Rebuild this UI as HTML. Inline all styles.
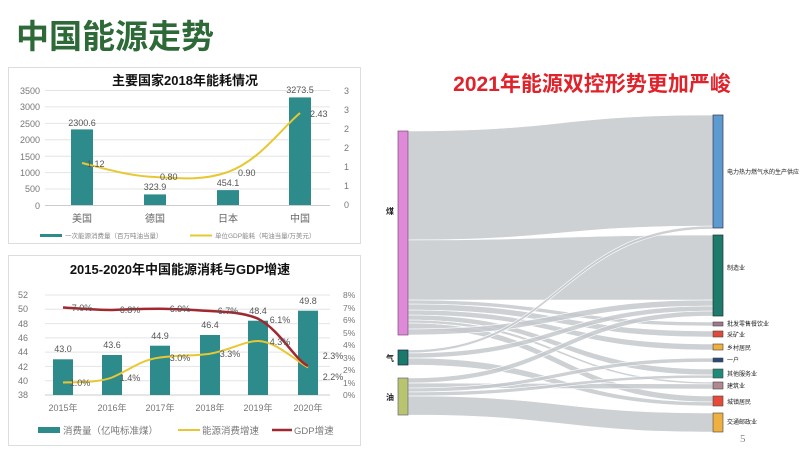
<!DOCTYPE html>
<html><head><meta charset="utf-8"><style>
html,body{margin:0;padding:0;background:#fff;}
body{width:800px;height:450px;overflow:hidden;position:relative;font-family:"Liberation Sans","Noto Sans CJK SC",sans-serif;}
</style></head><body>
<svg width="800" height="450" viewBox="0 0 800 450" xmlns="http://www.w3.org/2000/svg" style="position:absolute;left:0;top:0;font-family:'Liberation Sans','Noto Sans CJK SC',sans-serif">
<text x="16" y="48" font-size="33" font-weight="bold" fill="#2d6a38">中国能源走势</text>

<!-- Chart 1 -->
<rect x="8.5" y="67.5" width="352" height="176" fill="#fff" stroke="#ddd"/>
<text x="185" y="85" font-size="13" font-weight="bold" text-anchor="middle" fill="#111">主要国家2018年能耗情况</text>
<g stroke="#e4e4e4" stroke-width="1">
<line x1="45" x2="330" y1="90.5" y2="90.5"/><line x1="45" x2="330" y1="106.9" y2="106.9"/><line x1="45" x2="330" y1="123.4" y2="123.4"/><line x1="45" x2="330" y1="139.8" y2="139.8"/><line x1="45" x2="330" y1="156.2" y2="156.2"/><line x1="45" x2="330" y1="172.6" y2="172.6"/><line x1="45" x2="330" y1="189" y2="189"/></g>
<line x1="45" x2="330" y1="205.5" y2="205.5" stroke="#ccc"/>
<g font-size="9" fill="#777" text-anchor="end">
<text x="40" y="94">3500</text><text x="40" y="110">3000</text><text x="40" y="127">2500</text><text x="40" y="143">2000</text><text x="40" y="160">1500</text><text x="40" y="176">1000</text><text x="40" y="192">500</text><text x="40" y="209">0</text></g>
<g font-size="9" fill="#777">
<text x="344" y="94">3</text><text x="344" y="113">3</text><text x="344" y="132">2</text><text x="344" y="151">2</text><text x="344" y="170">1</text><text x="344" y="189">1</text><text x="344" y="208">0</text></g>
<g fill="#2e8b8b">
<rect x="71" y="129.4" width="22" height="75.6"/><rect x="144" y="194.4" width="22" height="10.6"/><rect x="217" y="190.1" width="22" height="14.9"/><rect x="289" y="97.4" width="22" height="107.6"/></g>
<path d="M82 163 C110 170,130 176,155 177 C185 179,205 180,228 172 C260 160,280 130,300 113" fill="none" stroke="#e8c832" stroke-width="2"/>
<g font-size="9" fill="#555">
<text x="82" y="126" text-anchor="middle">2300.6</text><text x="155" y="190" text-anchor="middle">323.9</text><text x="228" y="186" text-anchor="middle">454.1</text><text x="300" y="93" text-anchor="middle">3273.5</text>
<text x="87" y="167">1.12</text><text x="160" y="180">0.80</text><text x="238" y="176">0.90</text><text x="310" y="117">2.43</text></g>
<g font-size="10" fill="#666" text-anchor="middle">
<text x="82" y="222">美国</text><text x="155" y="222">德国</text><text x="228" y="222">日本</text><text x="300" y="222">中国</text></g>
<rect x="40" y="234" width="22" height="3" fill="#2e8b8b"/>
<text x="65" y="238" font-size="6.5" fill="#888">一次能源消费量（百万吨油当量）</text>
<line x1="190" x2="212" y1="235.5" y2="235.5" stroke="#e8c832" stroke-width="2"/>
<text x="215" y="238" font-size="6.5" fill="#888">单位GDP能耗（吨油当量/万美元）</text>

<!-- Chart 2 -->
<rect x="8.5" y="255.5" width="352" height="190" fill="#fff" stroke="#ddd"/>
<text x="180" y="274" font-size="13" font-weight="bold" text-anchor="middle" fill="#111">2015-2020年中国能源消耗与GDP增速</text>
<g stroke="#e4e4e4"><line x1="45" x2="330" y1="295" y2="295"/><line x1="45" x2="330" y1="309.3" y2="309.3"/><line x1="45" x2="330" y1="323.6" y2="323.6"/><line x1="45" x2="330" y1="337.9" y2="337.9"/><line x1="45" x2="330" y1="352.1" y2="352.1"/><line x1="45" x2="330" y1="366.4" y2="366.4"/><line x1="45" x2="330" y1="380.7" y2="380.7"/></g>
<line x1="45" x2="330" y1="395" y2="395" stroke="#ccc"/>
<g font-size="9" fill="#777" text-anchor="end">
<text x="28" y="298">52</text><text x="28" y="312">50</text><text x="28" y="327">48</text><text x="28" y="341">46</text><text x="28" y="355">44</text><text x="28" y="370">42</text><text x="28" y="384">40</text><text x="28" y="398">38</text></g>
<g font-size="8.5" fill="#777">
<text x="343" y="298">8%</text><text x="343" y="311">7%</text><text x="343" y="323">6%</text><text x="343" y="336">5%</text><text x="343" y="348">4%</text><text x="343" y="361">3%</text><text x="343" y="373">2%</text><text x="343" y="386">1%</text><text x="343" y="398">0%</text></g>
<g fill="#2e8b8b">
<rect x="53" y="359.3" width="20" height="35.7"/><rect x="102" y="355" width="20" height="40"/><rect x="150" y="345.7" width="20" height="49.3"/><rect x="200" y="335" width="20" height="60"/><rect x="248" y="320.7" width="20" height="74.3"/><rect x="298" y="310.7" width="20" height="84.3"/></g>
<path d="M63 382.5 C85 382,100 382,112 377.5 C130 370,140 360,160 357.5 C180 355,195 356,210 353.7 C230 350,245 341,258 341 C275 341,295 360,308 367.5" fill="none" stroke="#e8c832" stroke-width="2"/>
<path d="M63 307.5 C85 309,95 310,112 310 C135 309,145 308.7,160 308.7 C180 309,195 310,210 311 C230 312,245 313,258 318.7 C280 330,295 360,308 366" fill="none" stroke="#a02830" stroke-width="2.5"/>
<g font-size="9" fill="#555" text-anchor="middle">
<text x="63" y="352">43.0</text><text x="112" y="348">43.6</text><text x="160" y="339">44.9</text><text x="210" y="328">46.4</text><text x="258" y="314">48.4</text><text x="308" y="304">49.8</text>
<text x="82" y="311">7.0%</text><text x="130" y="313">6.8%</text><text x="180" y="312">6.9%</text><text x="228" y="314">6.7%</text><text x="280" y="323">6.1%</text>
<text x="80" y="386">1.0%</text><text x="130" y="381">1.4%</text><text x="180" y="361">3.0%</text><text x="230" y="357">3.3%</text><text x="280" y="345">4.3%</text>
<text x="333" y="359">2.3%</text><text x="333" y="380">2.2%</text></g>
<g font-size="9" fill="#777" text-anchor="middle">
<text x="63" y="411">2015年</text><text x="112" y="411">2016年</text><text x="160" y="411">2017年</text><text x="210" y="411">2018年</text><text x="258" y="411">2019年</text><text x="308" y="411">2020年</text></g>
<rect x="38" y="427" width="22" height="6" fill="#2e8b8b"/>
<text x="63" y="434" font-size="9.5" fill="#777">消费量（亿吨标准煤）</text>
<line x1="178" x2="200" y1="430" y2="430" stroke="#e8c832" stroke-width="2"/>
<text x="202" y="434" font-size="9.5" fill="#777">能源消费增速</text>
<line x1="272" x2="292" y1="430" y2="430" stroke="#a02830" stroke-width="2.5"/>
<text x="294" y="434" font-size="9.5" fill="#777">GDP增速</text>

<!-- Sankey -->
<text x="592" y="91" font-size="21" font-weight="bold" fill="#e0222a" text-anchor="middle">2021年能源双控形势更加严峻</text>
<g fill="#c4c9cc" fill-opacity="0.85" stroke="#fff" stroke-width="0.6">
<path d="M408 131 C560 131 560 115 713 115 L713 226 C560 226 560 240 408 240 Z"/>
<path d="M408 240 C560 240 560 235 713 235 L713 300 C560 300 560 300 408 300 Z"/>
<path d="M408 300 C560 300 560 322 713 322 L713 326 C560 326 560 304 408 304 Z"/>
<path d="M408 304 C560 304 560 331 713 331 L713 337 C560 337 560 310 408 310 Z"/>
<path d="M408 310 C560 310 560 344 713 344 L713 350 C560 350 560 315 408 315 Z"/>
<path d="M408 315 C560 315 560 369 713 369 L713 375 C560 375 560 320 408 320 Z"/>
<path d="M408 320 C560 320 560 382 713 382 L713 384 C560 384 560 323 408 323 Z"/>
<path d="M408 323 C560 323 560 396 713 396 L713 402 C560 402 560 329 408 329 Z"/>
<path d="M408 329 C560 329 560 300 713 300 L713 306 C560 306 560 335 408 335 Z"/>
<path d="M408 350 C560 350 560 226 713 226 L713 229 C560 229 560 353 408 353 Z"/>
<path d="M408 353 C560 353 560 306 713 306 L713 311 C560 311 560 358 408 358 Z"/>
<path d="M408 358 C560 358 560 402 713 402 L713 406 C560 406 560 365 408 365 Z"/>
<path d="M408 378 C560 378 560 311 713 311 L713 316 C560 316 560 383 408 383 Z"/>
<path d="M408 383 C560 383 560 384 713 384 L713 389 C560 389 560 388 408 388 Z"/>
<path d="M408 388 C560 388 560 358 713 358 L713 362 C560 362 560 392 408 392 Z"/>
<path d="M408 392 C560 392 560 375 713 375 L713 378 C560 378 560 396 408 396 Z"/>
<path d="M408 396 C560 396 560 413 713 413 L713 432 C560 432 560 415 408 415 Z"/>
</g>
<rect x="398" y="131" width="10" height="204" fill="#de8ad8" stroke="#7a4a7a" stroke-width="0.7"/>
<rect x="398" y="350" width="10" height="15" fill="#1a7a6a" stroke="#224" stroke-width="0.7"/>
<rect x="398" y="378" width="10" height="37" fill="#b9c46e" stroke="#667" stroke-width="0.7"/>
<g font-size="8" font-weight="bold" fill="#222"><text x="386" y="214">煤</text><text x="386" y="361">气</text><text x="386" y="400">油</text></g>
<rect x="713" y="115" width="10" height="113" fill="#5b9bd0" stroke="#335" stroke-width="0.7"/>
<rect x="713" y="235" width="10" height="81" fill="#1e7a6a" stroke="#233" stroke-width="0.7"/>
<rect x="713" y="322" width="10" height="4" fill="#a07890" stroke="#444" stroke-width="0.6"/>
<rect x="713" y="331" width="10" height="6" fill="#e04a3a" stroke="#444" stroke-width="0.6"/>
<rect x="713" y="344" width="10" height="6" fill="#f0b040" stroke="#444" stroke-width="0.6"/>
<rect x="713" y="358" width="10" height="4" fill="#2a4a7a" stroke="#444" stroke-width="0.6"/>
<rect x="713" y="369" width="10" height="9" fill="#1e8a7a" stroke="#444" stroke-width="0.6"/>
<rect x="713" y="382" width="10" height="7" fill="#b08890" stroke="#444" stroke-width="0.6"/>
<rect x="713" y="396" width="10" height="10" fill="#e84a3a" stroke="#444" stroke-width="0.6"/>
<rect x="713" y="413" width="10" height="19" fill="#f0b040" stroke="#444" stroke-width="0.6"/>
<g font-size="6" fill="#222">
<text x="727" y="174">电力热力燃气水的生产供应</text><text x="727" y="270">制造业</text>
<text x="727" y="326">批发零售餐饮业</text><text x="727" y="337">采矿业</text><text x="727" y="350">乡村居民</text><text x="727" y="362">一户</text><text x="727" y="376">其他服务业</text><text x="727" y="388">建筑业</text><text x="727" y="404">城镇居民</text><text x="727" y="424">交通邮政业</text></g>
<text x="740" y="442" font-size="11" fill="#888" font-family="Liberation Serif,serif">5</text>
</svg>
</body></html>
